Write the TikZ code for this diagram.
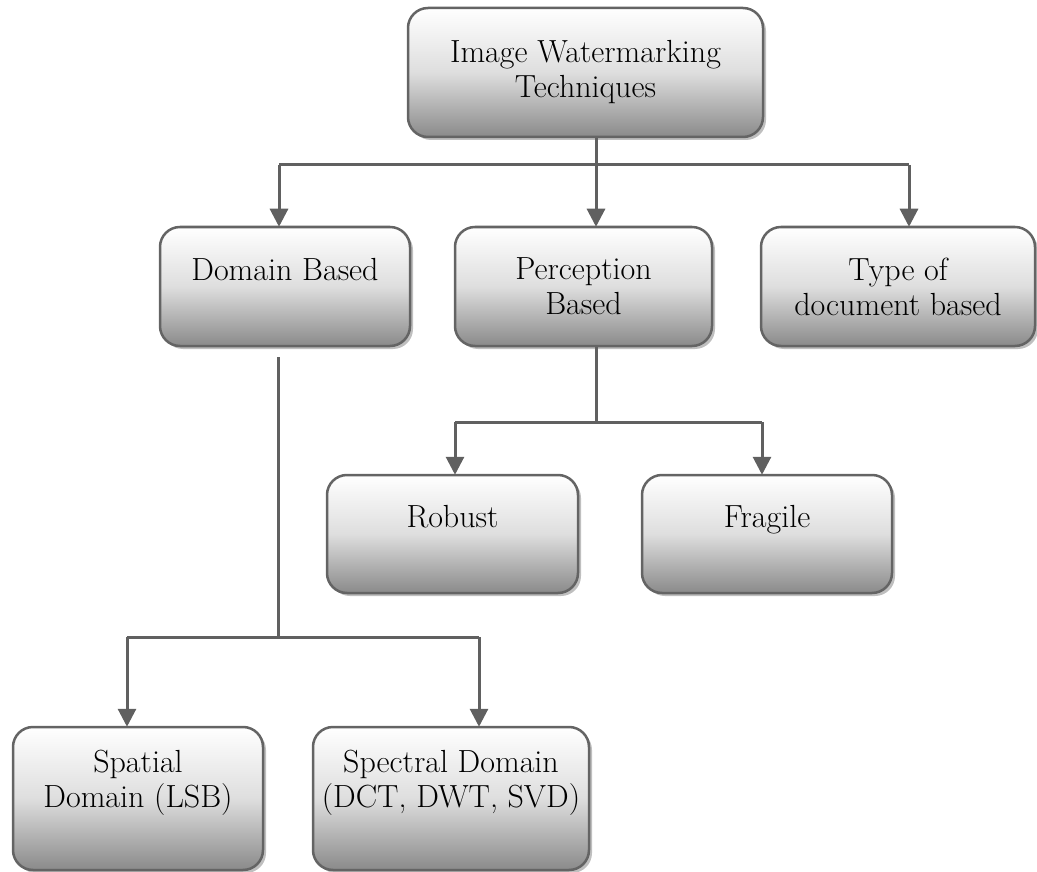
\documentclass[tikz,border=0pt]{standalone}
\usepackage{fontspec}
\usetikzlibrary{arrows.meta,shadows}
\definecolor{linegray}{RGB}{96,96,96}
\definecolor{edgegray}{RGB}{100,100,100}
\definecolor{shadebot}{RGB}{138,138,138}
\definecolor{shademid}{RGB}{222,222,222}
\tikzset{
  box/.style={draw=edgegray, line width=2.5pt, rounded corners=20pt,
    top color=white, bottom color=shadebot, middle color=shademid, align=center,
    font=\fontsize{32}{35}\selectfont, inner sep=0pt,
    drop shadow={shadow xshift=3pt, shadow yshift=-3pt, opacity=0.25, fill=black}},
  conn/.style={draw=linegray, line width=3pt},
  arr/.style={conn, -{Triangle[length=18pt,width=18pt]}, shorten >=-1pt}
}
\begin{document}
\begin{tikzpicture}[x=1pt,y=-1pt]
\useasboundingbox (0,0) rectangle (1037,872);
% boxes
\node[box, minimum width=355pt, minimum height=129pt] (top) at (585.5,72.5) {Image Watermarking\\Techniques};
\node[box, minimum width=250pt, minimum height=119pt] (domain) at (285,286.5) {Domain Based\\\mbox{}};
\node[box, minimum width=257pt, minimum height=119pt] (perc) at (583.5,286.5) {Perception\\Based};
\node[box, minimum width=274pt, minimum height=119pt] (type) at (898,286.5) {Type of\\document based};
\node[box, minimum width=251pt, minimum height=118pt] (robust) at (452.5,534) {Robust\\\mbox{}};
\node[box, minimum width=250pt, minimum height=118pt] (fragile) at (767,534) {Fragile\\\mbox{}};
\node[box, minimum width=250pt, minimum height=143pt] (spatial) at (138,798.5) {Spatial\\Domain (LSB)\\[4pt]\mbox{}};
\node[box, minimum width=276pt, minimum height=143pt] (spectral) at (451,798.5) {Spectral Domain\\(DCT, DWT, SVD)\\[4pt]\mbox{}};
% level 1 connectors
\coordinate (j1) at (596,165);
\coordinate (a1) at (279,165);
\coordinate (a3) at (909,165);
\draw[conn] (top.south -| j1) -- (j1);
\draw[conn] (a1) -- (a3);
\draw[arr] (a1) -- (a1 |- domain.north);
\draw[arr] (j1) -- (j1 |- perc.north);
\draw[arr] (a3) -- (a3 |- type.north);
% perception branch
\coordinate (j2) at (596,422);
\coordinate (b1) at (455,422);
\coordinate (b2) at (762,422);
\draw[conn] (perc.south -| j2) -- (j2);
\draw[conn] (b1) -- (b2);
\draw[arr] (b1) -- (b1 |- robust.north);
\draw[arr] (b2) -- (b2 |- fragile.north);
% domain branch
\coordinate (j3) at (278,637);
\coordinate (c1) at (127,637);
\coordinate (c2) at (479,637);
\draw[conn] ([yshift=-10pt]domain.south -| j3) -- (j3);
\draw[conn] (c1) -- (c2);
\draw[arr] (c1) -- (c1 |- spatial.north);
\draw[arr] (c2) -- (c2 |- spectral.north);
\end{tikzpicture}
\end{document}
